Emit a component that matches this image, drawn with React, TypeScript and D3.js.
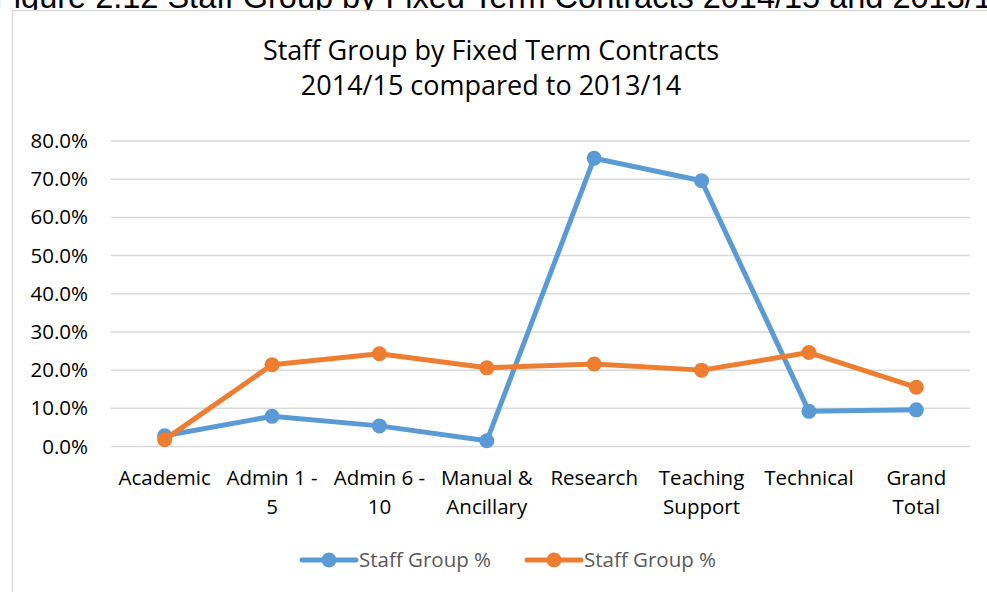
import { useEffect, useRef } from "react";
import * as d3 from "d3";

const categories = [
	"Academic",
	"Admin 1 - 5",
	"Admin 6 - 10",
	"Manual & Ancillary",
	"Research",
	"Teaching Support",
	"Technical",
	"Grand Total",
];

// wrapped axis labels, as they appear under the axis
const categoryLines = [
	["Academic"],
	["Admin 1 -", "5"],
	["Admin 6 -", "10"],
	["Manual &", "Ancillary"],
	["Research"],
	["Teaching", "Support"],
	["Technical"],
	["Grand", "Total"],
];

const blueValues = [0.028, 0.079, 0.054, 0.015, 0.755, 0.696, 0.092, 0.096];
const orangeValues = [0.018, 0.214, 0.243, 0.206, 0.216, 0.2, 0.246, 0.155];

const yTicks = [0, 0.1, 0.2, 0.3, 0.4, 0.5, 0.6, 0.7, 0.8];

const seriesNames = ["Staff Group %", "Staff Group %"];
const seriesColors = ["#5B9BD5", "#ED7D31"];

const FONT = "'Open Sans', 'DejaVu Sans', sans-serif";

export default function App() {
	const ref = useRef<SVGSVGElement>(null);

	useEffect(() => {
		const svg = d3.select(ref.current);
		svg.selectAll("*").remove();

		// caption of the page above the chart (cut off by the crop)
		svg.append("text")
			.attr("x", -6)
			.attr("y", 8)
			.attr("font-family", "'Liberation Sans', Arial, sans-serif")
			.attr("font-size", "32.5px")
			.attr("fill", "#000")
			.text("Figure 2.12 Staff Group by Fixed Term Contracts 2014/15 and 2013/14");

		// chart area frame
		svg.append("rect")
			.attr("x", 12.5)
			.attr("y", 10.5)
			.attr("width", 1000)
			.attr("height", 620)
			.attr("fill", "#fff")
			.attr("stroke", "#d9d9d9")
			.attr("stroke-width", 1.5);

		// Title
		const title = svg.append("text")
			.attr("text-anchor", "middle")
			.attr("font-family", FONT)
			.attr("font-size", "27px")
			.attr("fill", "#000");
		title.append("tspan").attr("x", 491).attr("y", 60).text("Staff Group by Fixed Term Contracts");
		title.append("tspan").attr("x", 491).attr("y", 95).text("2014/15 compared to 2013/14");

		// Scales
		const x = d3.scaleBand<string>().domain(categories).range([111, 970]);
		const cx = (c: string) => x(c)! + x.bandwidth() / 2;
		const y = d3.scaleLinear().domain([0, 0.8]).range([446.5, 141]);

		// Gridlines
		svg.append("g")
			.selectAll("line")
			.data(yTicks)
			.enter()
			.append("line")
			.attr("x1", 111)
			.attr("x2", 970)
			.attr("y1", d => y(d))
			.attr("y2", d => y(d))
			.attr("stroke", "#d9d9d9")
			.attr("stroke-width", 1.5);

		// Y tick labels
		svg.append("g")
			.selectAll("text")
			.data(yTicks)
			.enter()
			.append("text")
			.attr("x", 88)
			.attr("y", d => y(d) + 7)
			.attr("text-anchor", "end")
			.attr("font-family", FONT)
			.attr("font-size", "20.5px")
			.attr("fill", "#000")
			.text(d => d3.format(".1%")(d));

		// X category labels
		const xl = svg.append("g");
		categories.forEach((c, i) => {
			const t = xl.append("text")
				.attr("text-anchor", "middle")
				.attr("font-family", FONT)
				.attr("font-size", "20.5px")
				.attr("fill", "#000");
			categoryLines[i].forEach((line, j) => {
				t.append("tspan")
					.attr("x", cx(c))
					.attr("y", 485 + j * 29)
					.text(line);
			});
		});

		// Lines + markers
		const allSeries = [blueValues, orangeValues];
		allSeries.forEach((vals, si) => {
			const line = d3.line<number>()
				.x((_, i) => cx(categories[i]))
				.y(d => y(d));

			svg.append("path")
				.datum(vals)
				.attr("d", line)
				.attr("fill", "none")
				.attr("stroke", seriesColors[si])
				.attr("stroke-width", 5)
				.attr("stroke-linejoin", "round")
				.attr("stroke-linecap", "round");

			svg.append("g")
				.selectAll("circle")
				.data(vals)
				.enter()
				.append("circle")
				.attr("cx", (_, i) => cx(categories[i]))
				.attr("cy", d => y(d))
				.attr("r", 7.5)
				.attr("fill", seriesColors[si]);
		});

		// Legend
		const legendX = [300, 525];
		seriesNames.forEach((name, i) => {
			const lg = svg.append("g").attr("transform", `translate(${legendX[i]},560)`);
			lg.append("line")
				.attr("x1", 2)
				.attr("x2", 56)
				.attr("stroke", seriesColors[i])
				.attr("stroke-width", 5)
				.attr("stroke-linecap", "round");
			lg.append("circle")
				.attr("cx", 29)
				.attr("r", 7.5)
				.attr("fill", seriesColors[i]);
			lg.append("text")
				.attr("x", 59)
				.attr("y", 7)
				.attr("font-family", FONT)
				.attr("font-size", "20.5px")
				.attr("fill", "#595959")
				.text(name);
		});
	}, []);

	return (
		<svg
			ref={ref}
			width={987}
			height={592}
			style={{ position: "absolute", left: 0, top: 0, background: "#fff" }}
		></svg>
	);
}
